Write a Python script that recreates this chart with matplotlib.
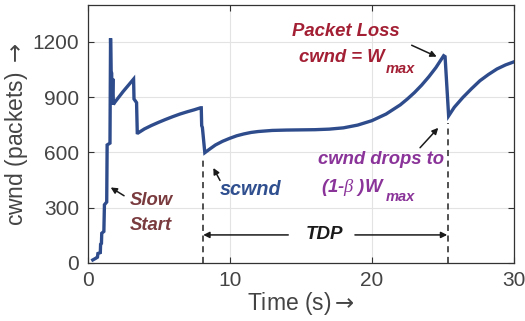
import numpy as np
import matplotlib.pyplot as plt

plt.rcParams['font.family'] = ['Liberation Sans', 'DejaVu Sans']
plt.rcParams['mathtext.fontset'] = 'custom'
plt.rcParams['mathtext.it'] = 'Liberation Serif:italic'

# cwnd trace (time in s, cwnd in packets)
time_s = [0.37, 0.6, 0.7, 0.73, 0.9, 0.92, 0.98, 1.0, 1.15, 1.19, 1.35, 1.38, 1.58,
          1.62, 1.66, 1.7, 1.72, 1.78, 1.82, 1.9, 2.5, 3.24, 3.27, 3.45, 3.5,
          3.55, 4.0, 4.5, 5.0, 5.5, 6.0, 6.5, 7.0, 7.5, 7.95, 8.0, 8.03, 8.08, 8.25,
          8.6, 9.0, 9.5, 10.0, 10.5, 11.0, 11.5, 12.0, 13.0, 14.0, 15.0, 16.0, 17.0,
          18.0, 19.0, 20.0, 21.0, 22.0, 22.5, 23.0, 23.5, 24.0, 24.5, 25.05, 25.15,
          25.4, 25.8, 26.4, 27.0, 27.6, 28.2, 28.8, 29.4, 30.0]
cwnd = [15, 25, 30, 50, 55, 100, 105, 160, 170, 315, 330, 640, 650,
        1220, 1040, 1030, 860, 1000, 860, 870, 930, 998, 890, 870, 706,
        705, 727, 746, 763, 779, 794, 808, 820, 831, 842, 842, 745, 735, 598,
        618, 640, 660, 676, 690, 700, 708, 713, 719, 721, 722, 723, 726,
        733, 748, 772, 808, 858, 890, 925, 965, 1010, 1060, 1125, 1120,
        798, 845, 898, 945, 989, 1023, 1053, 1075, 1092]

x_ticks = [0, 10, 20, 30]
y_ticks = [0, 300, 600, 900, 1200]

t_ss_end = 8.14     # end of slow start / scwnd drop
t_loss = 25.38      # packet loss
tdp_level = 151

fig = plt.figure(figsize=(5.25, 3.21), dpi=100)
ax = fig.add_axes([0.1667, 0.1816, 0.8124, 0.8024])

ax.plot(time_s, cwnd, color='#2E4B8B', lw=2.4, solid_joinstyle='miter', zorder=3)

ax.plot([t_ss_end, t_ss_end], [0, 571], color='#222222', lw=1.1, ls=(0, (4, 3)), zorder=2)
ax.plot([t_loss, t_loss], [0, 762], color='#222222', lw=1.1, ls=(0, (4, 3)), zorder=2)

ax.set_xlim(0, 30)
ax.set_ylim(0, 1400)
ax.set_xticks(x_ticks)
ax.set_yticks(y_ticks)
ax.grid(True, color='#E3E3E3', lw=0.8)
ax.set_axisbelow(True)
ax.tick_params(direction='in', top=True, right=True, length=4, width=0.8,
               labelsize=15, labelcolor='#444444', color='#333333', pad=6)
for s in ax.spines.values():
    s.set_color('#333333')
    s.set_linewidth(0.9)

ax.set_xlabel(r'Time (s)$\rightarrow$', fontsize=16.5, color='#444444', labelpad=0)
ax.set_ylabel(r'cwnd (packets) $\rightarrow$', fontsize=16.5, color='#444444', labelpad=2)

bi = dict(fontweight='bold', fontstyle='italic')
arr = dict(arrowstyle='-|>', color='#1a1a1a', lw=1.1, mutation_scale=9, shrinkA=0, shrinkB=0)

# packet loss
red = '#A31F34'
ax.text(18.17, 1255, 'Packet Loss', color=red, fontsize=13.3, ha='center', va='center', **bi)
ax.text(20.93, 1117, 'cwnd = W', color=red, fontsize=13.3, ha='right', va='center', **bi)
ax.text(21.0, 1051, 'max', color=red, fontsize=10.5, ha='left', va='center', **bi)
ax.annotate('', xy=(24.56, 1120), xytext=(22.8, 1182), arrowprops=arr)

# cwnd drop
purple = '#8A3399'
ax.text(20.64, 560, 'cwnd drops to', color=purple, fontsize=13.3, ha='center', va='center', **bi)
ax.text(20.93, 407, r'(1-$\beta$ )W', color=purple, fontsize=13.3, ha='right', va='center', **bi)
ax.text(21.0, 358, 'max', color=purple, fontsize=10.5, ha='left', va='center', **bi)
ax.annotate('', xy=(24.67, 733), xytext=(23.39, 625), arrowprops=arr)

# slow start
brown = '#7A3B3F'
ax.text(3.0, 339, 'Slow', color=brown, fontsize=13.3, ha='left', va='center', **bi)
ax.text(3.0, 200, 'Start', color=brown, fontsize=13.3, ha='left', va='center', **bi)
ax.annotate('', xy=(1.63, 409), xytext=(2.57, 364), arrowprops=arr)

# scwnd
ax.text(11.5, 397, 'scwnd', color='#2F4F8F', fontsize=14.2, ha='center', va='center', **bi)
ax.annotate('', xy=(8.85, 515), xytext=(9.32, 447), arrowprops=arr)

# TDP
ax.text(16.68, tdp_level, 'TDP', color='#1a1a1a', fontsize=13.5, ha='center', va='center', **bi)
ax.annotate('', xy=(t_ss_end, tdp_level), xytext=(14.12, tdp_level), arrowprops=arr)
ax.annotate('', xy=(t_loss - 0.08, tdp_level), xytext=(18.81, tdp_level), arrowprops=arr)

fig.savefig('out.png', dpi=100)
